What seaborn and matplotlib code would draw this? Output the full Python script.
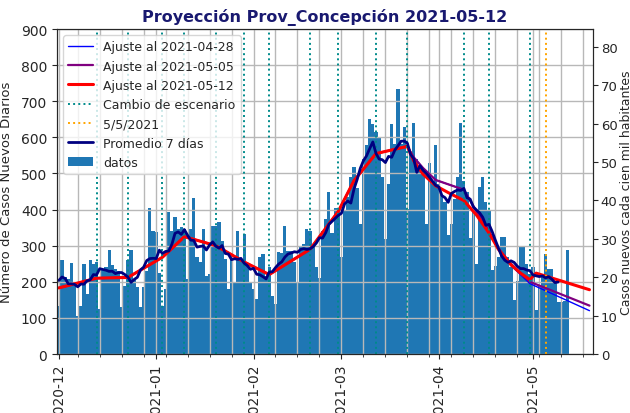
import pandas as pd
import matplotlib
matplotlib.use("Agg")
import matplotlib.pyplot as plt
import matplotlib.dates as mdates
import seaborn as sns

# casos diarios desde 2020-12-01
inicio = "2020-12-01"
casos = [
    134, 261, 212, 208, 251, 189, 106, 134, 249, 166,
    261, 249, 254, 126, 235, 240, 289, 246, 235, 231,
    129, 189, 260, 289, 208, 185, 129, 185, 231, 403,
    342, 337, 223, 134, 180, 394, 340, 380, 346, 353,
    346, 208, 346, 431, 270, 254, 346, 217, 222, 354,
    354, 366, 314, 263, 180, 272, 200, 342, 258, 332,
    250, 200, 180, 152, 270, 277, 217, 240, 162, 138,
    282, 280, 355, 286, 284, 254, 198, 300, 305, 345,
    340, 300, 240, 210, 340, 375, 448, 335, 405, 400,
    268, 397, 434, 489, 517, 461, 360, 540, 580, 651,
    637, 614, 600, 489, 318, 471, 637, 582, 734, 582,
    628, 402, 560, 640, 540, 520, 500, 360, 530, 470,
    580, 470, 440, 420, 330, 360, 430, 490, 640, 480,
    450, 320, 400, 250, 463, 489, 420, 395, 233, 245,
    268, 325, 323, 268, 240, 150, 203, 297, 295, 249,
    222, 240, 122, 190, 215, 277, 235, 235, 203, 143,
    143, 148, 288,
]

# fechas de cambio de escenario
escenarios = ["2020-12-13", "2020-12-23", "2021-01-03", "2021-01-10", "2021-01-20",
              "2021-01-29", "2021-02-06", "2021-02-19", "2021-02-28", "2021-03-12",
              "2021-03-22", "2021-04-09", "2021-04-17", "2021-04-30"]
fecha_55 = "2021-05-05"
poblacion = 1063000

# tramo comun de los ajustes
base_fechas = ["2020-12-01", "2020-12-13", "2020-12-23", "2021-01-03", "2021-01-10",
               "2021-01-20", "2021-01-29", "2021-02-06", "2021-02-19", "2021-02-28",
               "2021-03-05", "2021-03-12", "2021-03-22"]
base_vals = [183, 210, 212, 268, 325, 300, 255, 220, 290, 395, 480, 555, 575]

# ajuste al 2021-05-12
aj12_fechas = ["2021-03-24", "2021-03-27", "2021-03-31", "2021-04-04", "2021-04-09",
               "2021-04-13", "2021-04-17", "2021-04-20", "2021-04-24", "2021-04-27",
               "2021-04-30", "2021-05-02", "2021-05-19"]
aj12_vals = [535, 498, 466, 447, 425, 385, 335, 290, 247, 224, 206, 224, 178]

# ajuste al 2021-05-05
aj05_fechas = ["2021-03-24", "2021-03-27", "2021-03-31", "2021-04-04", "2021-04-09",
               "2021-04-13", "2021-04-17", "2021-04-20", "2021-04-24", "2021-04-27",
               "2021-04-30", "2021-05-19"]
aj05_vals = [545, 515, 482, 470, 455, 395, 340, 292, 250, 225, 200, 134]

# ajuste al 2021-04-28
aj28_fechas = ["2021-03-24", "2021-03-27", "2021-03-31", "2021-04-04", "2021-04-09",
               "2021-04-13", "2021-04-17", "2021-04-20", "2021-04-24", "2021-04-27",
               "2021-04-30", "2021-05-19"]
aj28_vals = [545, 515, 482, 470, 455, 395, 338, 288, 245, 220, 195, 120]

df = pd.DataFrame({"fecha": pd.date_range(inicio, periods=len(casos), freq="D"),
                   "casos": casos})
df["prom7"] = df["casos"].rolling(7, center=True, min_periods=4).mean()
df.loc[df.index[-3:], "prom7"] = None


def ajuste(fechas, vals):
    return pd.DataFrame({"fecha": pd.to_datetime(base_fechas + fechas),
                         "valor": base_vals + vals})


sns.set_style("ticks")
plt.rcParams["font.family"] = ["DejaVu Sans"]

fig, ax = plt.subplots(figsize=(6.3, 4.14), dpi=100)
fig.subplots_adjust(left=0.0905, right=0.9413, top=0.9275, bottom=0.1425)

ax.bar(df["fecha"], df["casos"], width=1.0, color="#1f77b4", linewidth=0,
       label="datos")

sns.lineplot(data=ajuste(aj28_fechas, aj28_vals), x="fecha", y="valor", ax=ax,
             color="blue", linewidth=1.0, label="Ajuste al 2021-04-28")
sns.lineplot(data=ajuste(aj05_fechas, aj05_vals), x="fecha", y="valor", ax=ax,
             color="purple", linewidth=1.6, label="Ajuste al 2021-05-05")
sns.lineplot(data=ajuste(aj12_fechas, aj12_vals), x="fecha", y="valor", ax=ax,
             color="red", linewidth=2.2, label="Ajuste al 2021-05-12")

for i, f in enumerate(escenarios):
    ax.axvline(pd.Timestamp(f), color="darkcyan", linestyle=":", linewidth=1.4,
               label="Cambio de escenario" if i == 0 else None)
ax.axvline(pd.Timestamp(fecha_55), color="orange", linestyle=":", linewidth=1.4,
           label="5/5/2021")

sns.lineplot(data=df, x="fecha", y="prom7", ax=ax, color="navy", linewidth=2.0,
             label="Promedio 7 días")

ax.set_xlim(pd.Timestamp("2020-11-30 10:00"), pd.Timestamp("2021-05-20 03:00"))
ax.set_ylim(0, 900)
ax.set_yticks(range(0, 901, 100))
ax.xaxis.set_major_locator(mdates.MonthLocator())
ax.xaxis.set_major_formatter(mdates.DateFormatter("%Y-%m"))
ax.xaxis.set_minor_locator(mdates.WeekdayLocator(byweekday=mdates.MO))
ax.tick_params(axis="x", labelrotation=90, labelsize=10)
ax.tick_params(axis="y", labelsize=10)
ax.set_axisbelow("line")
ax.grid(True, which="both", color="#b8b8b8", linewidth=1.0)
ax.set_xlabel("")
ax.set_ylabel("Número de Casos Nuevos Diarios", fontsize=9.5)
ax.yaxis.set_label_coords(-0.083, 0.5)
ax.set_title("Proyección Prov_Concepción 2021-05-12", fontsize=11.5,
             fontweight="bold", color="midnightblue")
ax.legend(loc="upper left", fontsize=9)

ax2 = ax.twinx()
ax2.set_ylim(0, 900 * 100000 / poblacion)
ax2.set_yticks(range(0, 81, 10))
ax2.tick_params(axis="y", labelsize=9.5, pad=2)
ax2.set_ylabel("Casos nuevos cada cien mil habitantes", fontsize=9)
ax2.yaxis.set_label_coords(1.05, 0.5)
ax2.grid(False)

fig.savefig("out.png", dpi=100)
